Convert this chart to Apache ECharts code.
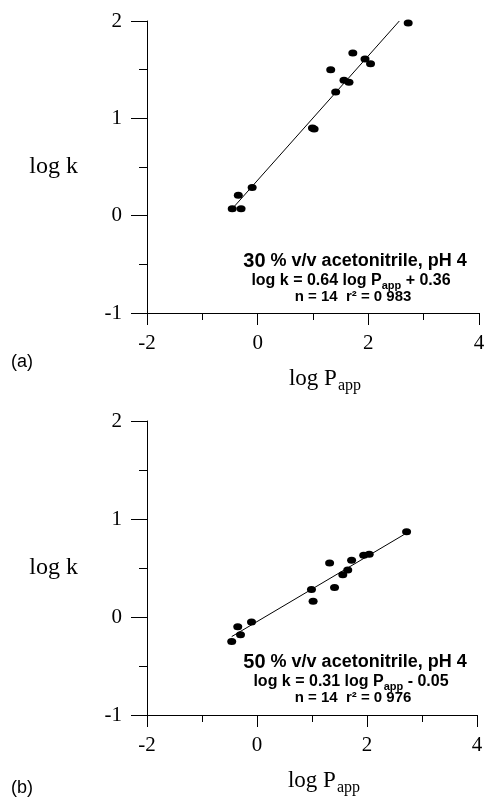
<!DOCTYPE html>
<html>
<head>
<meta charset="UTF-8">
<title></title>
<script src="https://cdn.jsdelivr.net/npm/echarts@6/dist/echarts.min.js"></script>
<style>
    body { margin: 0; background: #fff; }
</style>
</head>
<body>
<div id="main" style="width: 487px;height:799px;"></div>
<script>
    // log P(app) of the compounds, same order in both panels
    var logP = [2.72, 1.72, 1.94, 2.04, 1.32, 1.65, 1.56, 1.41, 0.99, 1.02, -0.10, -0.35, -0.30, -0.46];
    // log k, 30 % v/v acetonitrile
    var logK30 = [1.98, 1.67, 1.61, 1.56, 1.50, 1.37, 1.39, 1.27, 0.90, 0.89, 0.29, 0.21, 0.07, 0.07];
    // log k, 50 % v/v acetonitrile
    var logK50 = [0.87, 0.58, 0.63, 0.64, 0.55, 0.48, 0.43, 0.30, 0.28, 0.16, -0.05, -0.10, -0.18, -0.25];
    // regression lines, end points
    var fit30X = [-0.43, 2.56];
    var fit30Y = [0.09, 2.00];
    var fit50X = [-0.46, 2.67];
    var fit50Y = [-0.20, 0.84];
    // tick labels
    var xTicks = [-2, 0, 2, 4];
    var yTicks = [-1, 0, 1, 2];

    var serif = "'Liberation Serif', 'Times New Roman', serif";
    var sans = "'Liberation Sans', Arial, sans-serif";

    function pairs(xs, ys) {
        var out = [];
        for (var i = 0; i < xs.length; i++) out.push([xs[i], ys[i]]);
        return out;
    }

    function xAxisFor(idx) {
        return {
            type: 'value', gridIndex: idx,
            min: xTicks[0], max: xTicks[xTicks.length - 1], interval: xTicks[1] - xTicks[0],
            axisLine: { onZero: false, lineStyle: { color: '#000', width: 1 } },
            axisTick: { length: 12, lineStyle: { color: '#000' } },
            minorTick: { show: true, splitNumber: 2, length: 7, lineStyle: { color: '#000' } },
            splitLine: { show: false },
            axisLabel: { color: '#000', fontFamily: serif, fontSize: 21, margin: 20 },
            name: '{m|log P}{s|app}',
            nameLocation: 'middle',
            nameGap: 54,
            nameTextStyle: {
                padding: [0, 0, 0, 24],
                rich: {
                    m: { fontFamily: serif, fontSize: 23, color: '#000', verticalAlign: 'top', lineHeight: 23 },
                    s: { fontFamily: serif, fontSize: 16, color: '#000', verticalAlign: 'top', lineHeight: 16, padding: [11, 0, 0, 1] }
                }
            }
        };
    }

    function yAxisFor(idx) {
        return {
            type: 'value', gridIndex: idx,
            min: yTicks[0], max: yTicks[yTicks.length - 1], interval: yTicks[1] - yTicks[0],
            axisLine: { show: true, onZero: false, lineStyle: { color: '#000', width: 1 } },
            axisTick: { show: true, length: 16, lineStyle: { color: '#000' } },
            minorTick: { show: true, splitNumber: 2, length: 8, lineStyle: { color: '#000' } },
            splitLine: { show: false },
            axisLabel: { color: '#000', fontFamily: serif, fontSize: 21, margin: 25 },
            name: 'log k',
            nameLocation: 'middle',
            nameRotate: 0,
            nameGap: 69,
            nameTextStyle: { fontFamily: serif, fontSize: 24, color: '#000' }
        };
    }

    function note(cx, cy, pct, eq) {
        return [
            {
                type: 'text', x: cx, y: cy,
                style: {
                    text: '{big|' + pct + '}{n| % v/v acetonitrile, pH 4}',
                    align: 'center', verticalAlign: 'middle',
                    rich: {
                        big: { font: 'bold 20px ' + sans, fill: '#000' },
                        n: { font: 'bold 18px ' + sans, fill: '#000' }
                    }
                }
            },
            {
                type: 'text', x: cx - 4, y: cy + 20,
                style: {
                    text: '{n|log k = ' + eq[0] + ' log P}{s|app}{n|' + eq[1] + '}',
                    align: 'center', verticalAlign: 'middle',
                    rich: {
                        n: { font: 'bold 16px ' + sans, fill: '#000', verticalAlign: 'top', lineHeight: 16 },
                        s: { font: 'bold 11px ' + sans, fill: '#000', verticalAlign: 'top', lineHeight: 11, padding: [7, 0, 0, 0] }
                    }
                }
            },
            {
                type: 'text', x: cx - 2, y: cy + 36,
                style: {
                    text: eq[2],
                    align: 'center', verticalAlign: 'middle',
                    font: 'bold 15px ' + sans, fill: '#000'
                }
            }
        ];
    }

    var myChart = echarts.init(document.getElementById('main'));

    var option = {
        backgroundColor: '#fff',
        animation: false,
        grid: [
            { left: 147, top: 21, width: 332, height: 292, containLabel: false, outerBoundsMode: 'none' },
            { left: 147, top: 421, width: 330, height: 294, containLabel: false, outerBoundsMode: 'none' }
        ],
        xAxis: [xAxisFor(0), xAxisFor(1)],
        yAxis: [yAxisFor(0), yAxisFor(1)],
        series: [
            {
                type: 'line', xAxisIndex: 0, yAxisIndex: 0,
                data: pairs(fit30X, fit30Y), symbol: 'none', silent: true,
                lineStyle: { color: '#000', width: 1 }
            },
            {
                type: 'scatter', xAxisIndex: 0, yAxisIndex: 0,
                data: pairs(logP, logK30), symbol: 'circle', symbolSize: [9, 7],
                itemStyle: { color: '#000', opacity: 1 }
            },
            {
                type: 'line', xAxisIndex: 1, yAxisIndex: 1,
                data: pairs(fit50X, fit50Y), symbol: 'none', silent: true,
                lineStyle: { color: '#000', width: 1 }
            },
            {
                type: 'scatter', xAxisIndex: 1, yAxisIndex: 1,
                data: pairs(logP, logK50), symbol: 'circle', symbolSize: [9, 7],
                itemStyle: { color: '#000', opacity: 1 }
            }
        ],
        graphic: [].concat(
            note(355, 261, '30', ['0.64', ' + 0.36', 'n = 14  r\u00b2 = 0 983']),
            note(355, 662, '50', ['0.31', ' - 0.05', 'n = 14  r\u00b2 = 0 976']),
            [
                { type: 'text', x: 11, y: 362, style: { text: '(a)', font: '18px ' + sans, fill: '#000', verticalAlign: 'middle' } },
                { type: 'text', x: 11, y: 788, style: { text: '(b)', font: '18px ' + sans, fill: '#000', verticalAlign: 'middle' } }
            ]
        )
    };

    myChart.setOption(option);
</script>
</body>
</html>
